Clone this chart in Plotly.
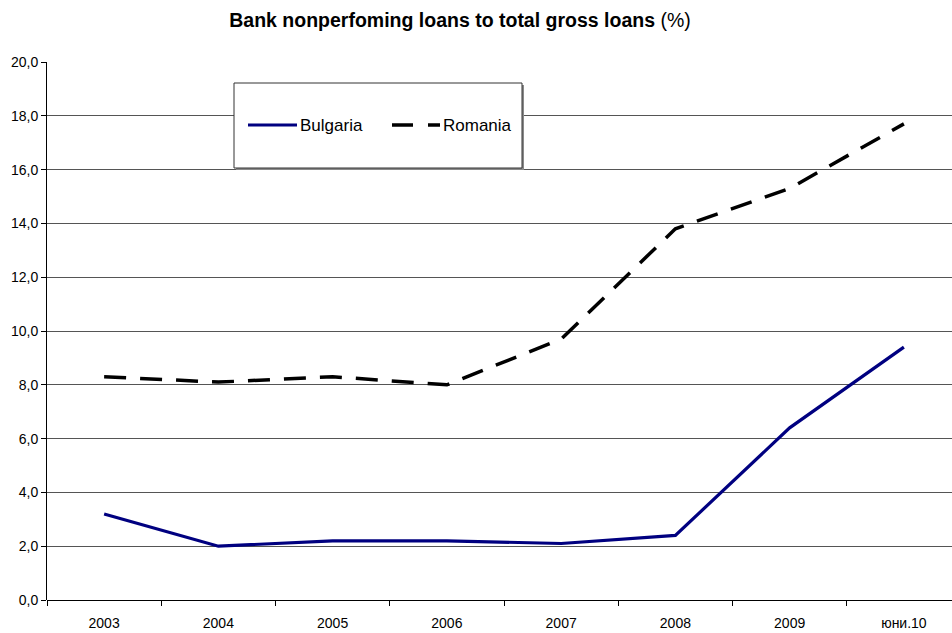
import plotly.graph_objects as go

categories = ["2003", "2004", "2005", "2006", "2007", "2008", "2009", "юни.10"]
bulgaria = [3.2, 2.0, 2.2, 2.2, 2.1, 2.4, 6.4, 9.4]
romania = [8.3, 8.1, 8.3, 8.0, 9.7, 13.8, 15.3, 17.7]
y_ticks = [0, 2, 4, 6, 8, 10, 12, 14, 16, 18, 20]
series_names = ["Bulgaria", "Romania"]

FONT = "Liberation Sans, Arial, sans-serif"
W, H = 952, 633
ML, MT, MB, MR = 47, 62, 33, 0
PLOT_L, PLOT_T = ML, MT
PLOT_B = H - MB
pw = W - ML - MR
ph = H - MT - MB

def px_x(p):
    return (p - PLOT_L) / pw

def px_y(p):
    return (PLOT_B - p) / ph

NAVY = "#000080"
DASH = "22px,14px"

fig = go.Figure()
fig.add_trace(go.Scatter(
    x=categories, y=bulgaria, name=series_names[0], mode="lines",
    line=dict(color=NAVY, width=3.2), showlegend=False,
))
fig.add_trace(go.Scatter(
    x=categories, y=romania, name=series_names[1], mode="lines",
    line=dict(color="#000000", width=3.5, dash=DASH), showlegend=False,
))

# legend box (drawn by hand to match the original layout)
fig.add_shape(type="rect", xref="paper", yref="paper",
              x0=px_x(236), x1=px_x(524), y0=px_y(170), y1=px_y(85),
              line=dict(width=0), fillcolor="#8a8a8a", layer="above")
fig.add_shape(type="rect", xref="paper", yref="paper",
              x0=px_x(234), x1=px_x(522), y0=px_y(168), y1=px_y(83),
              line=dict(color="#333333", width=1), fillcolor="white", layer="above")
fig.add_shape(type="line", xref="paper", yref="paper",
              x0=px_x(248), x1=px_x(297), y0=px_y(125), y1=px_y(125),
              line=dict(color=NAVY, width=3), layer="above")
fig.add_shape(type="line", xref="paper", yref="paper",
              x0=px_x(392), x1=px_x(440), y0=px_y(125), y1=px_y(125),
              line=dict(color="black", width=3.5, dash="21px,15px"), layer="above")
for name, xp in zip(series_names, [298, 441]):
    fig.add_annotation(xref="paper", yref="paper", x=px_x(xp), y=px_y(125),
                       xanchor="left", yanchor="middle", showarrow=False,
                       text=name, font=dict(family=FONT, size=17, color="black"))

last = len(categories) - 1
fig.update_layout(
    width=W, height=H,
    margin=dict(l=ML, r=MR, t=MT, b=MB),
    paper_bgcolor="white", plot_bgcolor="white",
    separators=",.",
    font=dict(family=FONT, size=14, color="black"),
    title=dict(
        text="<b>Bank nonperfoming loans to total gross loans</b> (%)",
        x=460 / W, xref="container", xanchor="center",
        y=1 - 20 / H, yanchor="middle",
        font=dict(family=FONT, size=19.5, color="black"),
    ),
    showlegend=False,
    xaxis=dict(
        type="category", range=[-0.5, last + 0.5 - 9 / 114],
        showgrid=False, showline=False, zeroline=False,
        ticks="outside", tickson="boundaries", ticklen=5, tickcolor="black",
        ticklabelstandoff=13,
        tickfont=dict(family=FONT, size=14, color="black"),
    ),
    yaxis=dict(
        range=[0, 20], tickvals=y_ticks, tickformat=".1f",
        showgrid=True, gridcolor="#555555", gridwidth=1,
        showline=True, linecolor="black", linewidth=1,
        zeroline=True, zerolinecolor="black", zerolinewidth=1,
        ticks="outside", ticklen=5, tickcolor="black",
        tickfont=dict(family=FONT, size=14, color="black"),
    ),
)

fig.write_html(
    "out.html",
    config={"displayModeBar": False},
    post_script=(
        "document.documentElement.style.overflow='hidden';"
        "document.body.style.margin='0';"
        "document.body.style.overflow='hidden';"
    ),
)
